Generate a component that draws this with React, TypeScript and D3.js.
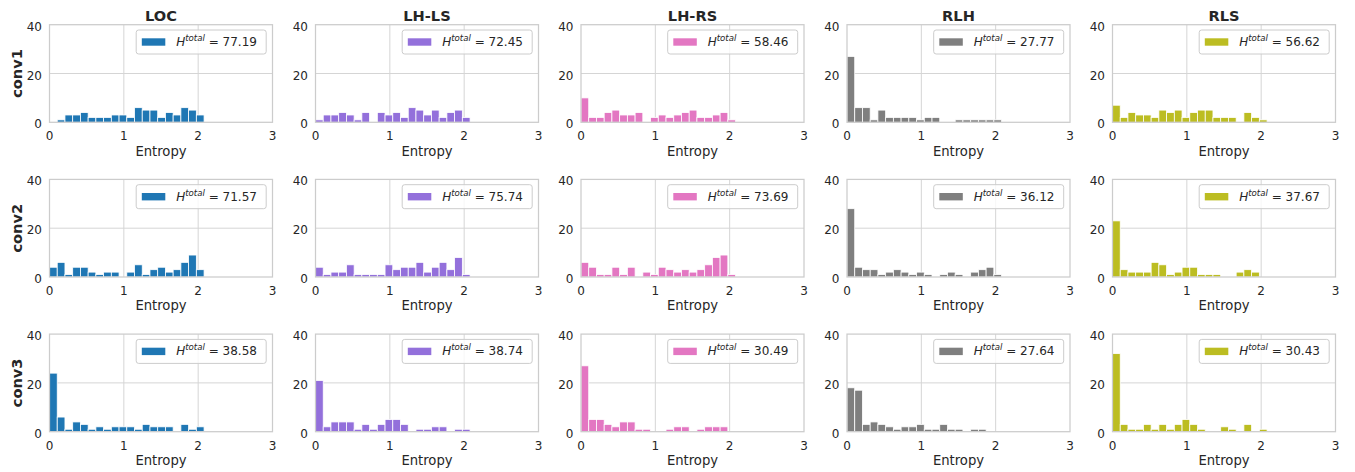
import React from "react";
import * as d3 from "d3";

const methods = ["LOC", "LH-LS", "LH-RS", "RLH", "RLS"];
const layers = ["conv1", "conv2", "conv3"];
const colors = ["#1f77b4", "#9370db", "#e377c2", "#7f7f7f", "#bcbd22"];

// histogram counts, 20 bins over [0, ln 8]
const locCounts = [
  [0, 1, 3, 3, 4, 2, 2, 2, 3, 3, 2, 6, 5, 5, 2, 4, 3, 6, 5, 3],
  [4, 6, 1, 4, 4, 2, 1, 2, 2, 0, 2, 5, 1, 3, 4, 2, 3, 6, 9, 3],
  [24, 6, 1, 4, 3, 1, 2, 1, 2, 2, 2, 1, 3, 2, 2, 2, 0, 3, 1, 2],
];
const lhlsCounts = [
  [1, 3, 3, 4, 3, 1, 4, 0, 4, 3, 4, 2, 6, 5, 3, 5, 2, 4, 5, 2],
  [4, 1, 2, 2, 5, 1, 1, 1, 1, 5, 3, 4, 4, 6, 2, 4, 6, 3, 8, 1],
  [21, 2, 4, 4, 4, 1, 3, 1, 3, 5, 5, 3, 0, 1, 1, 2, 2, 0, 1, 1],
];
const lhrsCounts = [
  [10, 2, 2, 4, 5, 3, 3, 4, 0, 2, 3, 2, 3, 4, 5, 2, 2, 3, 4, 1],
  [6, 4, 1, 1, 4, 1, 4, 0, 2, 1, 4, 3, 2, 3, 2, 3, 5, 8, 9, 1],
  [27, 5, 5, 3, 2, 4, 4, 1, 1, 0, 0, 1, 2, 2, 0, 1, 2, 2, 2, 0],
];
const rlhCounts = [
  [27, 6, 6, 1, 5, 2, 2, 2, 2, 1, 2, 2, 0, 0, 1, 1, 1, 1, 1, 1],
  [28, 4, 3, 3, 1, 2, 3, 2, 1, 2, 1, 0, 1, 2, 1, 0, 2, 3, 4, 1],
  [18, 17, 3, 4, 3, 2, 1, 2, 2, 3, 1, 1, 3, 1, 1, 0, 1, 1, 0, 0],
];
const rlsCounts = [
  [7, 2, 4, 3, 3, 2, 5, 4, 5, 2, 4, 5, 5, 2, 2, 2, 0, 4, 2, 1],
  [23, 3, 2, 2, 2, 6, 5, 1, 2, 4, 4, 1, 1, 1, 0, 0, 2, 3, 2, 0],
  [32, 3, 1, 1, 3, 1, 3, 1, 3, 5, 3, 1, 0, 0, 2, 1, 0, 3, 0, 1],
];
const allCounts = [locCounts, lhlsCounts, lhrsCounts, rlhCounts, rlsCounts];

const locTotals = ["77.19", "71.57", "38.58"];
const lhlsTotals = ["72.45", "75.74", "38.74"];
const lhrsTotals = ["58.46", "73.69", "30.49"];
const rlhTotals = ["27.77", "36.12", "27.64"];
const rlsTotals = ["56.62", "37.67", "30.43"];
const allTotals = [locTotals, lhlsTotals, lhrsTotals, rlhTotals, rlsTotals];

const xTicks = [0, 1, 2, 3];
const yTicks = [0, 20, 40];
const maxEntropy = Math.log(8);
const nBins = 20;

const W = 1355;
const H = 472;
const colLeft = [49.5, 315.5, 581, 847, 1112.5];
const rowTop = [24.7, 179.4, 334.1];
const pw = 223;
const ph = 97.6;
const textColor = "#262626";
const gridColor = "#d5d5d5";
const spineColor = "#cccccc";
const font = "'DejaVu Sans', sans-serif";

function Panel({ m, l }: { m: number; l: number }) {
  const x0 = colLeft[m];
  const y0 = rowTop[l];
  const x = d3.scaleLinear().domain([0, 3]).range([x0, x0 + pw]);
  const y = d3.scaleLinear().domain([0, 40]).range([y0 + ph, y0]);
  const counts = allCounts[m][l];
  const bw = maxEntropy / nBins;
  const legW = 130;
  const legH = 24;
  const legX = x0 + pw - 6.3 - legW;
  const legY = y0 + 5.3;
  return (
    <g>
      <rect x={x0} y={y0} width={pw} height={ph} fill="white" />
      {xTicks.slice(1, -1).map((t) => (
        <line key={"gx" + t} x1={x(t)} x2={x(t)} y1={y0} y2={y0 + ph} stroke={gridColor} strokeWidth={1} />
      ))}
      {yTicks.slice(1, -1).map((t) => (
        <line key={"gy" + t} x1={x0} x2={x0 + pw} y1={y(t)} y2={y(t)} stroke={gridColor} strokeWidth={1} />
      ))}
      {counts.map((c, i) =>
        c > 0 ? (
          <rect
            key={i}
            x={x(i * bw)}
            width={x((i + 1) * bw) - x(i * bw)}
            y={y(c)}
            height={y(0) - y(c)}
            fill={colors[m]}
            stroke="white"
            strokeWidth={0.8}
          />
        ) : null
      )}
      <rect x={x0} y={y0} width={pw} height={ph} fill="none" stroke={spineColor} strokeWidth={1.25} />
      {xTicks.map((t) => (
        <text key={"xt" + t} x={x(t)} y={y0 + ph + 17.8} textAnchor="middle" fontSize={12} fill={textColor} fontFamily={font}>
          {t}
        </text>
      ))}
      {yTicks.map((t) => (
        <text key={"yt" + t} x={x0 - 7.5} y={y(t) + 6} textAnchor="end" fontSize={12} fill={textColor} fontFamily={font}>
          {t}
        </text>
      ))}
      <text x={x0 + pw / 2} y={y0 + ph + 33.3} textAnchor="middle" fontSize={13.2} fill={textColor} fontFamily={font}>
        Entropy
      </text>
      {l === 0 ? (
        <text x={x0 + pw / 2} y={y0 - 4} textAnchor="middle" fontSize={14.6} fontWeight="bold" fill={textColor} fontFamily={font}>
          {methods[m]}
        </text>
      ) : null}
      {m === 0 ? (
        <text
          transform={`translate(21.7,${y0 + ph / 2}) rotate(-90)`}
          textAnchor="middle"
          fontSize={14.6}
          fontWeight="bold"
          fill={textColor}
          fontFamily={font}
        >
          {layers[l]}
        </text>
      ) : null}
      <rect x={legX} y={legY} width={legW} height={legH} rx={2.5} fill="white" fillOpacity={0.8} stroke={spineColor} strokeWidth={1} />
      <rect x={legX + 5.6} y={legY + 8.3} width={23.5} height={7.4} fill={colors[m]} />
      <text x={legX + 40} y={legY + 16} fontSize={12} fill={textColor} fontFamily={font}>
        <tspan fontStyle="italic">H</tspan>
        <tspan fontStyle="italic" fontSize={8.6} dy={-5}>
          total
        </tspan>
        <tspan dy={5}>{" = " + allTotals[m][l]}</tspan>
      </text>
    </g>
  );
}

export default function App() {
  return (
    <svg width={W} height={H} style={{ position: "absolute", left: 0, top: 0, background: "white" }}>
      <rect width={W} height={H} fill="white" />
      {methods.map((_, m) => layers.map((__, l) => <Panel key={m + "-" + l} m={m} l={l} />))}
    </svg>
  );
}
